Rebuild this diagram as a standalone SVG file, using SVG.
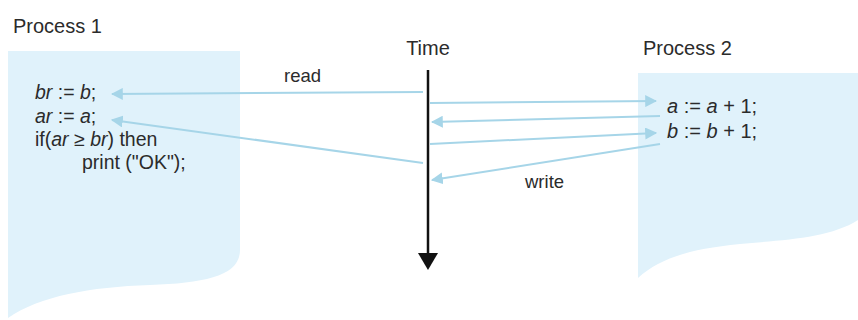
<svg xmlns="http://www.w3.org/2000/svg" width="858" height="320" viewBox="0 0 858 320">
  <style>
    text { font-family: "Liberation Sans", Arial, sans-serif; fill: #2b2b2b; }
    .lbl { font-size: 20px; }
    .code { font-size: 19.5px; }
    .code2 { font-size: 20px; }
    .sm { font-size: 18.5px; }
    .doc { fill: #e0f2fb; stroke: none; }
    .msg { stroke: #a6d5e8; stroke-width: 2; fill: none; marker-end: url(#ah); }
    .it { font-style: italic; }
  </style>
  <defs>
    <marker id="ah" viewBox="0 0 10 10" refX="9" refY="5" markerWidth="6" markerHeight="6" orient="auto" markerUnits="strokeWidth">
      <path d="M0,0 L10,5 L0,10 z" fill="#a6d5e8"/>
    </marker>
  </defs>

  <g id="process1">
    <path class="doc" d="M8,51 H240 V250 C240,276 205,283 150,285 C90,287 40,296 8,318 Z"/>
    <text class="lbl" x="13" y="33">Process 1</text>
    <text class="code" x="35" y="99"><tspan class="it">br</tspan> := <tspan class="it">b</tspan>;</text>
    <text class="code" x="35" y="123"><tspan class="it">ar</tspan> := <tspan class="it">a</tspan>;</text>
    <text class="code" x="35" y="146">if(<tspan class="it">ar</tspan> ≥ <tspan class="it">br</tspan>) then</text>
    <text class="code" x="82" y="169">print ("OK");</text>
  </g>

  <g id="process2">
    <path class="doc" d="M638,73 H858 V220 C830,238 785,240 740,244 C690,249 660,258 638,278 Z"/>
    <text class="lbl" x="643" y="55">Process 2</text>
    <text class="code2" x="667" y="113"><tspan class="it">a</tspan> := <tspan class="it">a</tspan> + 1;</text>
    <text class="code2" x="667" y="138"><tspan class="it">b</tspan> := <tspan class="it">b</tspan> + 1;</text>
  </g>

  <g id="time">
    <text class="lbl" x="428" y="55" text-anchor="middle">Time</text>
    <line x1="428" y1="70" x2="428" y2="256" stroke="#111" stroke-width="2.5"/>
    <polygon points="418,253 438,253 428,270" fill="#111"/>
  </g>

  <g id="connectors">
    <path class="msg" d="M423,92 L112,94"/>
    <path class="msg" d="M430,103 L656,101"/>
    <path class="msg" d="M660,116 L432,122"/>
    <path class="msg" d="M430,144 L656,133"/>
    <path class="msg" d="M660,144 L432,180"/>
    <path class="msg" d="M423,163 L112,120"/>
    <text class="sm" x="284" y="82">read</text>
    <text class="sm" x="525" y="188">write</text>
  </g>
</svg>
